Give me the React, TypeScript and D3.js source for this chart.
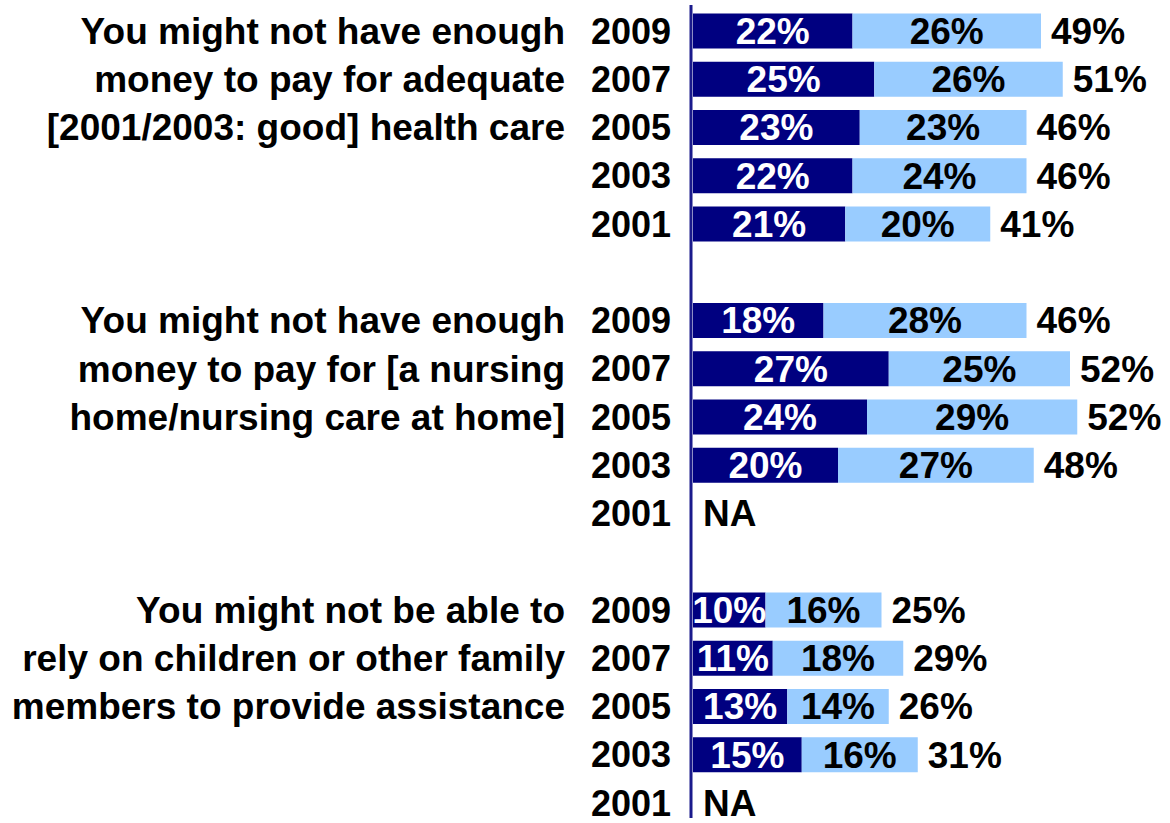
import React, { useEffect, useRef } from 'react';
import * as d3 from 'd3';

// Years shown for each question (top to bottom)
const years = ['2009', '2007', '2005', '2003', '2001'];

// Question labels, one entry per text line
const healthLabel = ['You might not have enough', 'money to pay for adequate', '[2001/2003: good] health care'];
const nursingLabel = ['You might not have enough', 'money to pay for [a nursing', 'home/nursing care at home]'];
const familyLabel = ['You might not be able to', 'rely on children or other family', 'members to provide assistance'];

// Very worried (dark) / somewhat worried (light) / total, null = NA
const healthDark = [22, 25, 23, 22, 21];
const healthLight = [26, 26, 23, 24, 20];
const healthTotal = [49, 51, 46, 46, 41];

const nursingDark = [18, 27, 24, 20, null];
const nursingLight = [28, 25, 29, 27, null];
const nursingTotal = [46, 52, 52, 48, null];

const familyDark = [10, 11, 13, 15, null];
const familyLight = [16, 18, 14, 16, null];
const familyTotal = [25, 29, 26, 31, null];

const App = () => {
  const chartRef = useRef(null);

  useEffect(() => {
    const width = 1170;
    const height = 823;
    const font = '"Liberation Sans", Arial, sans-serif';

    const svg = d3.select(chartRef.current)
      .attr('width', width)
      .attr('height', height);
    svg.selectAll('*').remove();

    const groups = [
      { key: 'health', label: healthLabel, dark: healthDark, light: healthLight, total: healthTotal },
      { key: 'nursing', label: nursingLabel, dark: nursingDark, light: nursingLight, total: nursingTotal },
      { key: 'family', label: familyLabel, dark: familyDark, light: familyLight, total: familyTotal },
    ];

    // one slot per year, plus an empty slot between groups
    const rowKeys: string[] = [];
    groups.forEach((g, gi) => {
      years.forEach(yr => rowKeys.push(g.key + yr));
      if (gi < groups.length - 1) rowKeys.push('gap' + gi);
    });

    const y = d3.scalePoint().domain(rowKeys).range([31, 803]);
    const x = d3.scaleLinear().domain([0, 60]).range([693, 693 + 435]);
    const barH = 35;

    const g = svg.append('g')
      .style('font-family', font)
      .style('font-weight', 'bold')
      .style('font-size', '37px');

    groups.forEach(grp => {
      // question label
      grp.label.forEach((line, i) => {
        g.append('text')
          .attr('x', 565)
          .attr('y', y(grp.key + years[i])!)
          .attr('dy', '0.35em')
          .attr('text-anchor', 'end')
          .attr('fill', '#000')
          .text(line);
      });

      years.forEach((yr, i) => {
        const cy = y(grp.key + yr)!;
        g.append('text')
          .attr('x', 671)
          .attr('y', cy)
          .attr('dy', '0.35em')
          .attr('text-anchor', 'end')
          .attr('fill', '#000')
          .style('font-size', '36px')
          .text(yr);

        const d = grp.dark[i];
        const l = grp.light[i];
        if (d == null || l == null) {
          g.append('text')
            .attr('x', 703)
            .attr('y', cy)
            .attr('dy', '0.35em')
            .attr('fill', '#000')
            .text('NA');
          return;
        }

        g.append('rect')
          .attr('x', x(0))
          .attr('y', cy - barH / 2)
          .attr('width', x(d) - x(0))
          .attr('height', barH)
          .attr('fill', '#000080');
        g.append('rect')
          .attr('x', x(d))
          .attr('y', cy - barH / 2)
          .attr('width', x(d + l) - x(d))
          .attr('height', barH)
          .attr('fill', '#99CCFF');

        g.append('text')
          .attr('x', (x(0) + x(d)) / 2)
          .attr('y', cy)
          .attr('dy', '0.35em')
          .attr('text-anchor', 'middle')
          .attr('fill', '#fff')
          .text(d + '%');
        g.append('text')
          .attr('x', (x(d) + x(d + l)) / 2)
          .attr('y', cy)
          .attr('dy', '0.35em')
          .attr('text-anchor', 'middle')
          .attr('fill', '#000')
          .text(l + '%');
        g.append('text')
          .attr('x', x(d + l) + 10)
          .attr('y', cy)
          .attr('dy', '0.35em')
          .attr('fill', '#000')
          .text(grp.total[i] + '%');
      });
    });

    // vertical axis line
    svg.append('line')
      .attr('x1', 691)
      .attr('x2', 691)
      .attr('y1', 5)
      .attr('y2', 818)
      .attr('stroke', '#1a1a8c')
      .attr('stroke-width', 3);
  }, []);

  return (
    <svg ref={chartRef} style={{ position: 'absolute', left: 0, top: 0 }}></svg>
  );
};

export default App;
